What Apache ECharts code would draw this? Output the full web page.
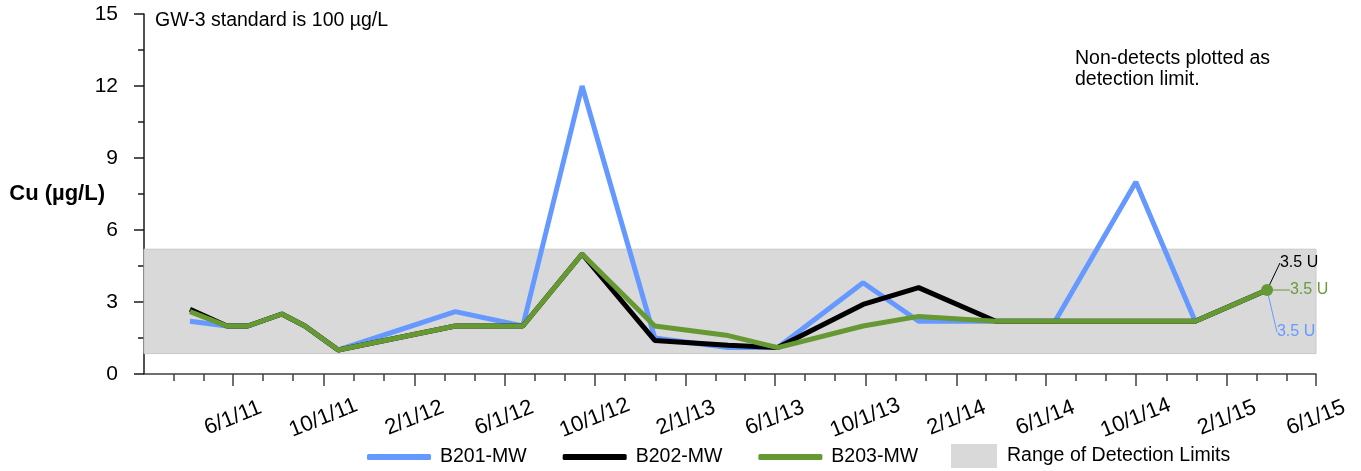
<!DOCTYPE html>
<html>
<head>
<meta charset="utf-8">
<script src="https://cdn.jsdelivr.net/npm/echarts@6/dist/echarts.min.js"></script>
<style>
html,body{margin:0;padding:0;background:#fff;}
#chart{width:1361px;height:471px;}
</style>
</head>
<body>
<div id="chart"></div>
<script>
// ---- data ----
const sampleDates = ['2011-04-04','2011-05-24','2011-06-21','2011-08-06','2011-09-06','2011-10-21',
  '2012-03-27','2012-06-26','2012-09-14','2012-12-21','2013-03-30','2013-06-05','2013-09-28',
  '2013-12-12','2014-03-26','2014-06-14','2014-10-01','2014-12-20','2015-03-27'];
const b201 = [2.2, 2.0, 2.0, 2.5, 2.0, 1.0, 2.6, 2.0, 12.0, 1.5, 1.1, 1.1, 3.8, 2.2, 2.2, 2.2, 8.0, 2.2, 3.5];
const b202 = [2.7, 2.0, 2.0, 2.5, 2.0, 1.0, 2.0, 2.0, 5.0, 1.4, 1.2, 1.1, 2.9, 3.6, 2.2, 2.2, 2.2, 2.2, 3.5];
const b203 = [2.6, 2.0, 2.0, 2.5, 2.0, 1.0, 2.0, 2.0, 5.0, 2.0, 1.6, 1.1, 2.0, 2.4, 2.2, 2.2, 2.2, 2.2, 3.5];
const detectionRange = [0.85, 5.2];
const xMinDate = '2011-02-01';
const xMaxDate = '2015-06-01';
const majorTickDates = ['2011-06-01','2011-10-01','2012-02-01','2012-06-01','2012-10-01','2013-02-01',
  '2013-06-01','2013-10-01','2014-02-01','2014-06-01','2014-10-01','2015-02-01','2015-06-01'];
const yTicks = [0, 3, 6, 9, 12, 15];
const seriesNames = ['B201-MW','B202-MW','B203-MW'];
const bandName = 'Range of Detection Limits';
const noteStandard = 'GW-3 standard is 100 µg/L';
const noteNonDetect = 'Non-detects plotted as\ndetection limit.';
const yTitle = 'Cu (µg/L)';

// ---- helpers ----
function ts(s){ const p = s.split('-').map(Number); return Date.UTC(p[0], p[1]-1, p[2]); }
function fmt(v){ const d = new Date(v); return (d.getUTCMonth()+1) + '/' + d.getUTCDate() + '/' + String(d.getUTCFullYear()).slice(2); }

const xMin = ts(xMinDate), xMax = ts(xMaxDate);
const majors = majorTickDates.map(ts);
const bounds = [xMin].concat(majors);
const minors = [];
for (let i = 0; i < bounds.length - 1; i++) {
  const a = bounds[i], b = bounds[i+1];
  minors.push(a + (b - a) / 3, a + 2 * (b - a) / 3);
}

const colors = ['#6699FF', '#000000', '#669933'];
const labelColors = ['#6699FF', '#000000', '#6A9A3C'];
const labelShift = [{dx: 29, dy: 42}, {dx: 32, dy: -27}, {dx: 42, dy: 0}];
const values = [b201, b202, b203];
const FONT = 'Liberation Sans, Arial, sans-serif';

function buildData(vals, idx) {
  const last = vals.length - 1;
  return sampleDates.map((d, i) => {
    if (i !== last) return [ts(d), vals[i]];
    return {
      value: [ts(d), vals[i]],
      symbolSize: idx === 2 ? 12 : 0,
      label: {
        show: true, position: 'inside', fontSize: 16, color: labelColors[idx],
        fontFamily: FONT,
        formatter: p => p.value[1] + ' U'
      },
      labelLine: { show: true, lineStyle: { color: labelColors[idx], width: 1 } }
    };
  });
}

const lineSeries = seriesNames.map((name, idx) => ({
  name: name,
  type: 'line',
  data: buildData(values[idx], idx),
  showSymbol: true,
  showAllSymbol: true,
  symbol: 'circle',
  symbolSize: 0,
  itemStyle: { color: colors[idx] },
  lineStyle: { color: colors[idx], width: 5 },
  labelLayout: labelShift[idx],
  z: 3 + idx,
  silent: true,
  animation: false
}));

const bandSeries = {
  name: bandName,
  type: 'line',
  data: [],
  itemStyle: { color: '#D9D9D9' },
  lineStyle: { color: '#D9D9D9' },
  z: 1,
  silent: true,
  markArea: {
    silent: true,
    itemStyle: { color: '#D9D9D9', borderColor: '#C8C8C8', borderWidth: 1 },
    data: [[{ yAxis: detectionRange[0] }, { yAxis: detectionRange[1] }]]
  }
};

const chart = echarts.init(document.getElementById('chart'), null, { renderer: 'canvas' });
chart.setOption({
  animation: false,
  textStyle: { fontFamily: FONT },
  title: [
    { text: noteStandard, left: 155, top: 11, padding: 0,
      textStyle: { fontSize: 19.5, fontWeight: 'normal', color: '#000', fontFamily: FONT } },
    { text: noteNonDetect, left: 1075, top: 48, padding: 0,
      textStyle: { fontSize: 19.5, fontWeight: 'normal', color: '#000', lineHeight: 21, fontFamily: FONT } }
  ],
  legend: [
    { data: seriesNames, left: 367, top: 447, icon: 'roundRect', itemWidth: 64, itemHeight: 6, itemGap: 36,
      padding: 0, selectedMode: false,
      textStyle: { fontSize: 19.5, color: '#000', padding: [0, 0, 0, 4], fontFamily: FONT } },
    { data: [{ name: bandName, icon: 'rect' }], left: 951, top: 444, itemWidth: 46, itemHeight: 24,
      padding: 0, selectedMode: false,
      textStyle: { fontSize: 19.5, color: '#000', padding: [0, 0, 0, 5], fontFamily: FONT } }
  ],
  grid: { left: 144, right: 45, top: 14, bottom: 97, containLabel: false, outerBoundsMode: 'none' },
  xAxis: [
    { type: 'value', min: xMin, max: xMax, splitLine: { show: false },
      axisLine: { show: true, lineStyle: { color: '#404040', width: 1.5 } },
      axisTick: { show: true, length: 12, customValues: majors, lineStyle: { color: '#404040', width: 1.5 } },
      axisLabel: { show: true, customValues: majors, formatter: fmt, rotate: 22, align: 'center',
        verticalAlign: 'middle', margin: 44, fontSize: 22, color: '#000', fontFamily: FONT,
        showMinLabel: true, showMaxLabel: true, hideOverlap: false },
      minorTick: { show: false } },
    { type: 'value', min: xMin, max: xMax, position: 'bottom', gridIndex: 0, splitLine: { show: false },
      axisLine: { show: false },
      axisTick: { show: true, length: 7, customValues: minors, lineStyle: { color: '#404040', width: 1.5 } },
      axisLabel: { show: false } }
  ],
  yAxis: {
    type: 'value', min: yTicks[0], max: yTicks[yTicks.length - 1], interval: yTicks[1] - yTicks[0],
    name: yTitle, nameLocation: 'middle', nameRotate: 0, nameGap: 39, nameMoveOverlap: false,
    nameTextStyle: { fontSize: 22, fontWeight: 'bold', color: '#000', fontFamily: FONT },
    splitLine: { show: false },
    axisLine: { show: true, lineStyle: { color: '#1a1a1a', width: 1.5 } },
    axisTick: { show: true, length: 10, lineStyle: { color: '#1a1a1a', width: 1.5 } },
    minorTick: { show: true, splitNumber: 2, length: 6, lineStyle: { color: '#1a1a1a', width: 1.5 } },
    axisLabel: { fontSize: 21, color: '#000', margin: 26, fontFamily: FONT }
  },
  series: [bandSeries].concat(lineSeries)
});
</script>
</body>
</html>
